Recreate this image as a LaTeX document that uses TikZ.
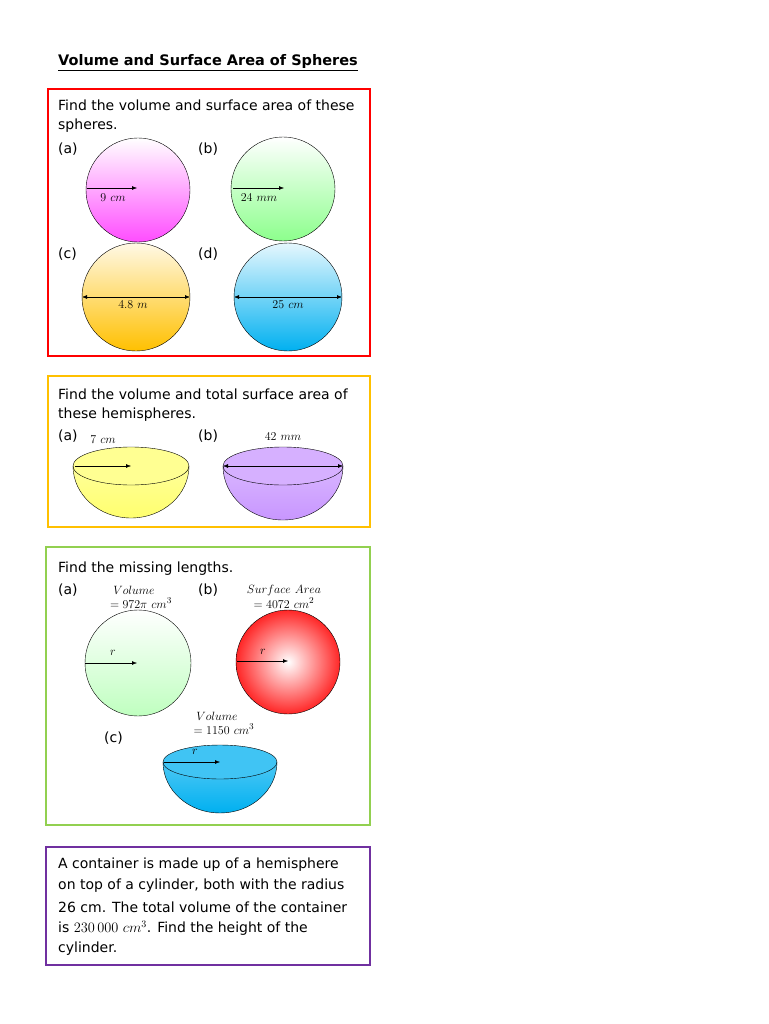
\documentclass[tikz,border=0pt]{standalone}
\usepackage{fontspec}
\setmainfont{DejaVu Sans}
\usepackage{amsmath}
\usetikzlibrary{arrows.meta}
\definecolor{bowlyel}{RGB}{255,255,110}
\definecolor{bowlvio}{RGB}{200,150,255}
\definecolor{bowlblu}{RGB}{0,176,240}
\definecolor{boxorange}{RGB}{255,192,0}
\definecolor{boxgreen}{RGB}{146,208,80}
\definecolor{boxpurple}{RGB}{112,48,160}
\tikzset{
  txt/.style={anchor=west,inner sep=0pt,font=\fontsize{14}{16}\selectfont},
  mth/.style={inner sep=0pt,font=\fontsize{13}{15}\selectfont},
  dim/.style={{Latex[length=5pt]}-{Latex[length=5pt]}},
  rad/.style={-{Latex[length=5pt]}},
  box/.style={line width=1.8pt}
}
\newcommand{\ball}[4]{% x,y,r,colour
  \shade[top color=white,bottom color=#4] (#1,#2) circle (#3);
  \draw (#1,#2) circle (#3);}
\newcommand{\bowl}[6]{% x,y,rx,ry,depth,colour
  \shade[top color=#6!70,bottom color=#6] (#1-#3,#2) arc (180:0:#3 and #5) -- cycle;
  \fill[#6!75] (#1,#2) ellipse (#3 and #4);
  \draw (#1-#3,#2) arc (180:0:#3 and #5);
  \draw (#1,#2) ellipse (#3 and #4);}
\begin{document}
\begin{tikzpicture}[x=1pt,y=-1pt]
\useasboundingbox[fill=white] (0,0) rectangle (768,1024);
\node[txt,font=\bfseries\fontsize{14.5}{16}\selectfont] (title) at (58,63) {\underline{Volume and Surface Area of Spheres}};
% spheres
\draw[box,red] (48,89) rectangle (370,356);
\node[txt] at (58,105) {Find the volume and surface area of these};
\node[txt] at (58,126) {spheres.};
\node[txt] at (58,149) {(a)};
\node[txt] at (198,149) {(b)};
\node[txt] at (58,254) {(c)};
\node[txt] at (198,254) {(d)};
\ball{138}{190}{52}{magenta!70}
\ball{283}{189}{52}{green!45}
\shade[top color=boxorange!10,middle color=boxorange!75,bottom color=boxorange] (136,297) circle (54);
\draw (136,297) circle (54);
\shade[top color=bowlblu!10,middle color=bowlblu!60,bottom color=bowlblu] (288,297) circle (54);
\draw (288,297) circle (54);
\draw[rad] (87,188) -- (137,188);
\node[mth] (la) at (113,198) {$9\ cm$};
\draw[rad] (233,188) -- (284,188);
\node[mth] (lb) at (259,198) {$24\ mm$};
\draw[dim] (82,297) -- (190,297);
\node[mth] (lc) at (133,305) {$4.8\ m$};
\draw[dim] (234,297) -- (342,297);
\node[mth] (ld) at (288,305) {$25\ cm$};
% hemispheres
\draw[box,boxorange] (48,376) rectangle (370,527);
\node[txt] at (58,394) {Find the volume and total surface area of};
\node[txt] at (58,415) {these hemispheres.};
\node[txt] at (58,436) {(a)};
\node[txt] at (198,436) {(b)};
\bowl{131}{466}{58}{19}{52}{bowlyel}
\bowl{283}{466}{60}{19}{54}{bowlvio}
\draw[rad] (75,466) -- (131,466);
\node[mth] at (103,440) {$7\ cm$};
\draw[dim] (223,466) -- (343,466);
\node[mth] at (283,437) {$42\ mm$};
% missing lengths
\draw[box,boxgreen] (46,547) rectangle (370,825);
\node[txt] at (58,569) {Find the missing lengths.};
\node[txt] at (58,590) {(a)};
\node[txt] at (198,590) {(b)};
\node[txt] at (104,738) {(c)};
\node[mth] at (134,590) {$Volume$};
\node[mth] at (141,603) {$=972\pi\ cm^3$};
\node[mth] at (284,590) {$Surface\ Area$};
\node[mth] at (284,603) {$=4072\ cm^2$};
\node[mth] at (217,716) {$Volume$};
\node[mth] at (224,729) {$=1150\ cm^3$};
\ball{138}{663}{53}{green!25}
\shade[inner color=white,outer color=red!85] (288,662) circle (52);
\draw (288,662) circle (52);
\draw[rad] (85,663) -- (137,663);
\node[mth] at (113,653) {$r$};
\draw[rad] (237,661) -- (288,661);
\node[mth] at (263,652) {$r$};
\bowl{220}{762}{57}{17}{51}{bowlblu}
\draw[rad] (164,762) -- (220,762);
\node[mth] at (195,752) {$r$};
% container
\draw[box,boxpurple] (46,847) rectangle (370,965);
\node[txt] at (58,865) {A container is made up of a hemisphere};
\node[txt] at (58,886) {on top of a cylinder, both with the radius};
\node[txt] at (58,907) {26 cm. The total volume of the container};
\node[txt] at (58,928) {is $230\,000\ cm^3$. Find the height of the};
\node[txt] at (58,949) {cylinder.};
\end{tikzpicture}
\end{document}
